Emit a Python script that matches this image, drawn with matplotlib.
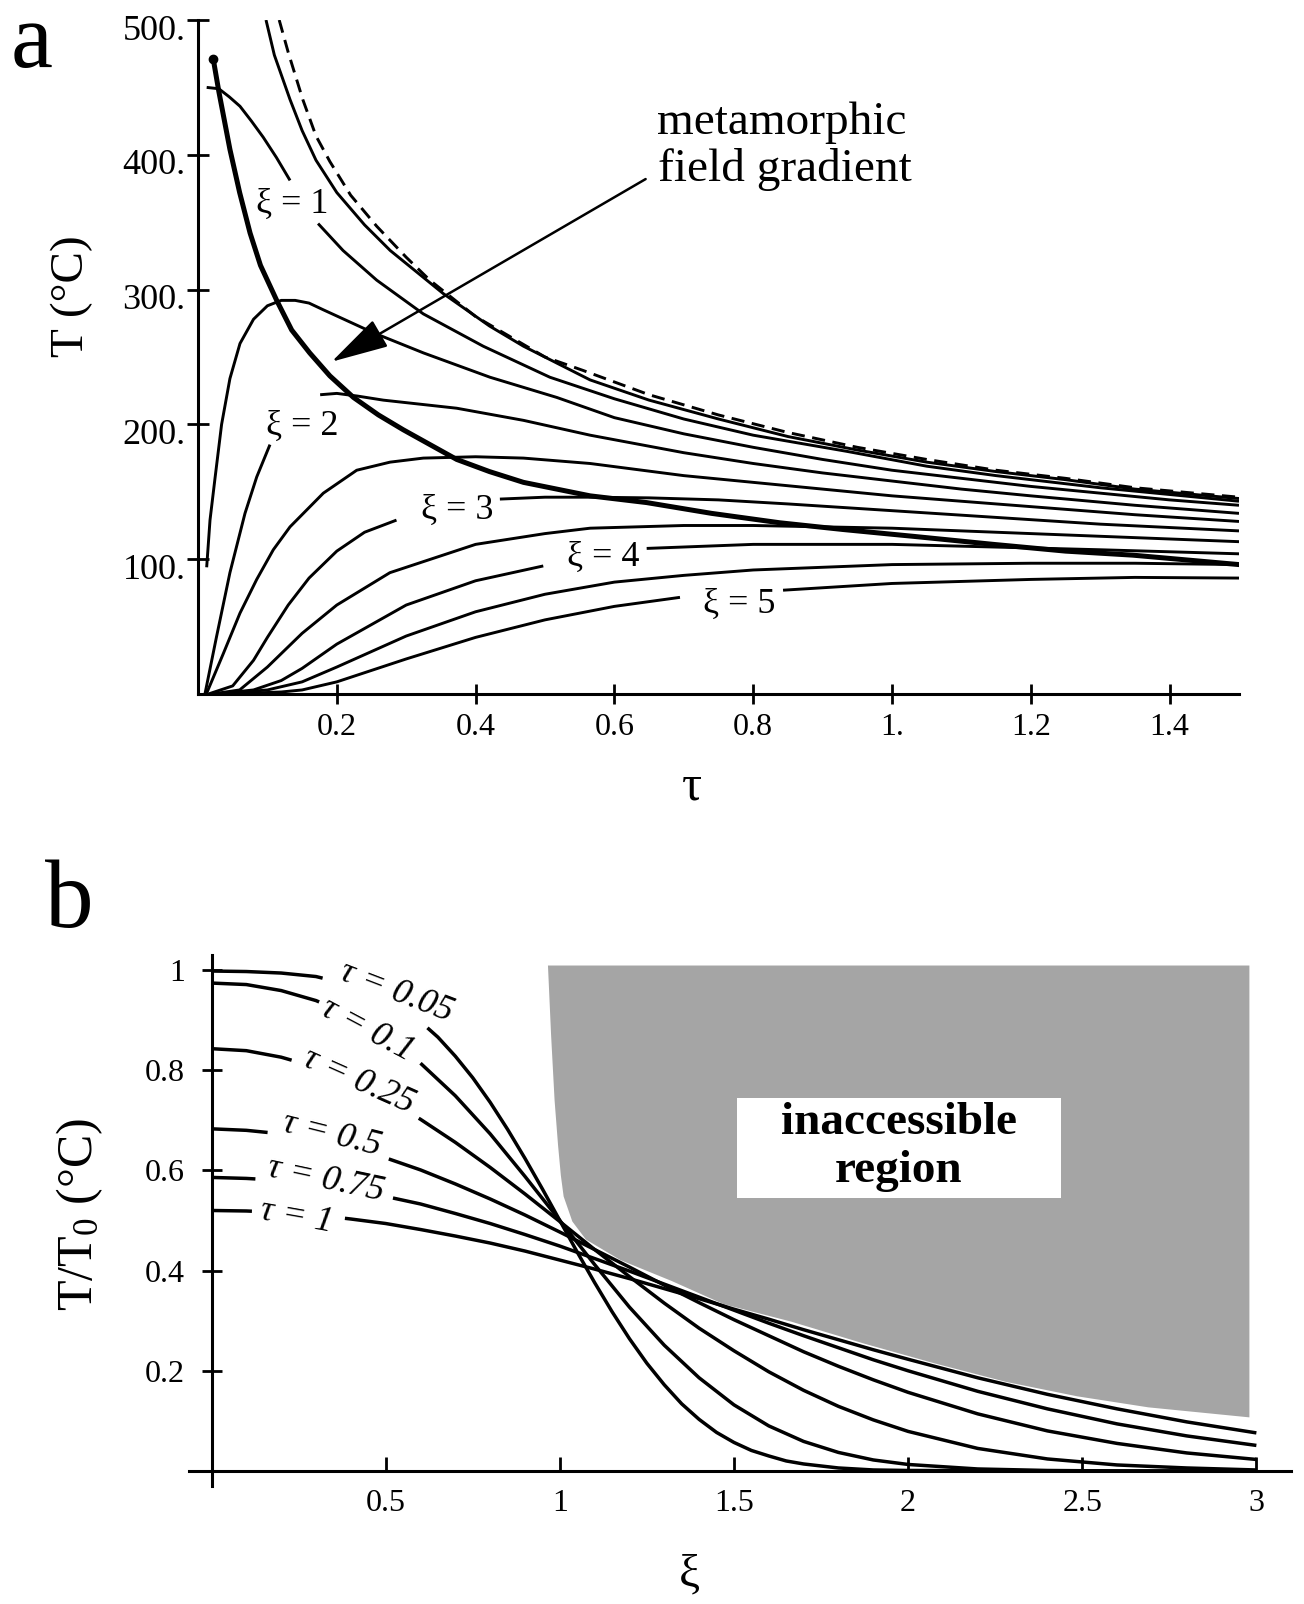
import numpy as np
import matplotlib
matplotlib.use("Agg")
import matplotlib.pyplot as plt
from matplotlib import transforms

plt.rcParams["font.family"] = ["Liberation Serif", "DejaVu Serif"]
plt.rcParams["mathtext.fontset"] = "custom"
plt.rcParams["mathtext.rm"] = "Liberation Serif"
plt.rcParams["mathtext.it"] = "Liberation Serif:italic"

W, H = 1304, 1604

# ---------------- panel a : temperature history at fixed depth ----------------
TAU_XI0 = [0.117, 0.13, 0.151, 0.17, 0.19, 0.22, 0.2575, 0.3, 0.334, 0.4, 0.5,
           0.555, 0.65, 0.75, 0.85, 0.95, 1.05, 1.15, 1.25, 1.35, 1.5]
T_XI0 = [500, 476, 441, 414, 395, 370, 347, 324, 307, 280, 250,
         240, 222, 207, 194, 183, 174, 166, 160, 153, 146]

TAU_XI05 = [0.098, 0.11, 0.1326, 0.15, 0.17, 0.2, 0.24, 0.277, 0.3535, 0.42,
            0.469, 0.565, 0.65, 0.75, 0.85, 0.95, 1.05, 1.15, 1.25, 1.35, 1.5]
T_XI05 = [500, 474, 441, 418, 396, 372, 348, 329, 297, 273,
          258, 233, 218, 204, 191, 181, 172, 165, 159, 152, 145]

TAU_XI1 = [0.0125, 0.03, 0.045, 0.0605, 0.077, 0.094, 0.113, 0.1326, 0.173,
           0.209, 0.2575, 0.3246, 0.411, 0.507, 0.6, 0.7, 0.8, 0.935, 1.05,
           1.15, 1.3, 1.5]
T_XI1 = [450, 449, 443, 436, 425, 413, 398, 381, 349,
         329, 307, 282, 258, 235, 219, 204, 192, 180, 169,
         162, 153, 143]

TAU_XI15 = [0.0125, 0.0173, 0.0245, 0.034, 0.046, 0.0605, 0.08, 0.1, 0.12,
            0.14, 0.16, 0.1806, 0.2526, 0.325, 0.4207, 0.517, 0.6, 0.7, 0.8,
            0.9, 1.0, 1.1, 1.2, 1.3, 1.4, 1.5]
T_XI15 = [94, 129, 160, 200, 234, 260, 278, 288, 292,
          292, 290, 285, 268, 253, 235, 220, 205, 193, 183,
          174, 166, 160, 154, 149, 144, 140]

TAU_XI2 = [0.01, 0.0265, 0.046, 0.0677, 0.0846, 0.1037, 0.176, 0.2, 0.23,
           0.267, 0.3728, 0.469, 0.565, 0.7, 0.8, 0.9, 1.0, 1.1, 1.2, 1.35, 1.5]
T_XI2 = [0, 42, 90, 134, 161, 185, 222, 223, 221,
         218, 212, 203, 192, 179, 171, 164, 158, 152, 147, 140, 134]

TAU_XI25 = [0.012, 0.0365, 0.0605, 0.0846, 0.1085, 0.1326, 0.1806, 0.2287,
            0.2767, 0.3246, 0.4, 0.469, 0.565, 0.7, 0.8, 0.9, 1.0, 1.1, 1.2,
            1.35, 1.5]
T_XI25 = [0, 30, 60, 85, 107, 124, 149, 166,
          172, 175, 176, 175, 171, 162, 157, 152, 147, 143, 139,
          133, 128]

TAU_XI3 = [0.015, 0.05, 0.08, 0.1, 0.13, 0.16, 0.2, 0.24, 0.286, 0.435, 0.5,
           0.565, 0.65, 0.75, 0.85, 1.0, 1.15, 1.3, 1.5]
T_XI3 = [0, 6, 25, 42, 66, 86, 106, 120, 129, 144.6, 146,
         146, 145.5, 144, 141, 136, 131, 126, 121]

TAU_XI35 = [0.02, 0.06, 0.1, 0.15, 0.2, 0.2765, 0.4, 0.5, 0.565, 0.7, 0.8,
            0.9, 1.0, 1.15, 1.3, 1.5]
T_XI35 = [0, 3, 20, 45, 66, 90, 111, 119, 123, 125, 125,
          124, 123, 120, 117, 113]

TAU_XI4 = [0.025, 0.08, 0.12, 0.15, 0.2, 0.3, 0.4, 0.4975, 0.6465, 0.8, 1.0,
           1.15, 1.3, 1.5]
T_XI4 = [0, 3, 10, 19, 37, 66, 84, 95, 108, 111, 111,
         109, 107, 104]

TAU_XI45 = [0.03, 0.1, 0.15, 0.2, 0.3, 0.4, 0.5, 0.6, 0.7, 0.8, 1.0, 1.2,
            1.35, 1.5]
T_XI45 = [0, 3, 9, 20, 43, 61, 74, 83, 88, 92, 96, 97,
          97, 96]

TAU_XI5 = [0.04, 0.12, 0.15, 0.2, 0.3, 0.4, 0.5, 0.6, 0.6945, 0.843, 1.0,
           1.2, 1.35, 1.5]
T_XI5 = [0, 1.5, 3, 9, 26, 42, 55, 65, 71.7, 77, 82,
         85, 86.5, 86]

# locus of peak temperatures (metamorphic field gradient)
TAU_PEAK = [0.022, 0.03, 0.046, 0.06, 0.075, 0.09, 0.1134, 0.135, 0.161, 0.19,
            0.224, 0.26, 0.2958, 0.3728, 0.42, 0.469, 0.565, 0.6465, 0.74,
            0.8386, 0.93, 1.03, 1.146, 1.25, 1.347, 1.5]
T_PEAK = [471, 447, 404, 372, 342, 318, 292, 270, 253, 236,
          220, 207, 196, 174, 165, 157, 147, 142, 134,
          127, 122, 117, 111, 106, 103, 96]

A_XTICKS = [0.2, 0.4, 0.6, 0.8, 1.0, 1.2, 1.4]
A_XTICKLABELS = ["0.2", "0.4", "0.6", "0.8", "1.", "1.2", "1.4"]
A_YTICKS = [100, 200, 300, 400, 500]
A_YTICKLABELS = ["100.", "200.", "300.", "400.", "500."]

# ---------------- panel b : normalised profiles at fixed time ----------------
XI_B005 = [0, 0.1, 0.2, 0.3, 0.4, 0.5, 0.6, 0.65, 0.7, 0.75, 0.8, 0.85, 0.9,
           0.95, 1.0, 1.05, 1.1, 1.15, 1.2, 1.25, 1.3, 1.35, 1.4, 1.45, 1.5,
           1.55, 1.6, 1.65, 1.7, 1.8, 1.9, 2.0, 2.5, 3.0]
V_B005 = [0.998, 0.997, 0.994, 0.987, 0.970, 0.943, 0.897, 0.866, 0.828,
          0.785, 0.736, 0.682, 0.624, 0.563, 0.500, 0.437, 0.376, 0.318,
          0.264, 0.215, 0.172, 0.134, 0.103, 0.077, 0.057, 0.041, 0.030,
          0.020, 0.014, 0.006, 0.002, 0.001, 0.0, 0.0]

XI_B = [0, 0.1, 0.2, 0.3, 0.4, 0.5, 0.6, 0.7, 0.8, 0.9, 1.0, 1.1, 1.2, 1.3,
        1.4, 1.5, 1.6, 1.7, 1.8, 1.9, 2.0, 2.2, 2.4, 2.6, 2.8, 3.0]
V_B01 = [0.974, 0.971, 0.959, 0.939, 0.909, 0.868, 0.814, 0.749, 0.673,
         0.588, 0.500, 0.412, 0.327, 0.251, 0.186, 0.132, 0.090, 0.059,
         0.037, 0.022, 0.013, 0.004, 0.001, 0.0, 0.0, 0.0]
V_B025 = [0.843, 0.839, 0.826, 0.806, 0.778, 0.743, 0.702, 0.656, 0.606,
          0.553, 0.498, 0.442, 0.388, 0.335, 0.285, 0.240, 0.198, 0.161,
          0.129, 0.102, 0.079, 0.045, 0.024, 0.012, 0.006, 0.002]
V_B05 = [0.683, 0.680, 0.673, 0.661, 0.645, 0.625, 0.601, 0.573, 0.543,
         0.511, 0.477, 0.442, 0.407, 0.371, 0.336, 0.302, 0.270, 0.238,
         0.209, 0.182, 0.157, 0.114, 0.080, 0.055, 0.036, 0.023]
V_B075 = [0.586, 0.584, 0.580, 0.572, 0.561, 0.548, 0.533, 0.514, 0.494,
          0.472, 0.449, 0.424, 0.399, 0.373, 0.347, 0.321, 0.295, 0.270,
          0.246, 0.222, 0.200, 0.159, 0.124, 0.094, 0.070, 0.051]
V_B1 = [0.520, 0.519, 0.516, 0.511, 0.503, 0.494, 0.482, 0.469, 0.455,
        0.439, 0.421, 0.403, 0.384, 0.364, 0.344, 0.323, 0.303, 0.282,
        0.262, 0.242, 0.223, 0.186, 0.153, 0.124, 0.098, 0.076]

XI_SHADE = [0.966, 0.975, 0.985, 0.995, 1.003, 1.011, 1.036, 1.075, 1.174,
            1.322, 1.47, 1.665, 1.87, 2.075, 2.28, 2.486, 2.69, 2.98, 2.98]
V_SHADE = [1.009, 0.87, 0.74, 0.65, 0.59, 0.548, 0.498, 0.462, 0.421,
           0.379, 0.333, 0.298, 0.255, 0.215, 0.178, 0.149, 0.127, 0.107,
           1.009]

B_XTICKS = [0.5, 1, 1.5, 2, 2.5, 3]
B_XTICKLABELS = ["0.5", "1", "1.5", "2", "2.5", "3"]
B_YTICKS = [0.2, 0.4, 0.6, 0.8, 1.0]
B_YTICKLABELS = ["0.2", "0.4", "0.6", "0.8", "1"]


def px(x, y):
    """Pixel position (from top-left) to figure fraction."""
    return x / W, 1 - y / H


def split_gap(x, y, gap):
    """Cut a curve where its label sits."""
    x = np.asarray(x, float)
    y = np.asarray(y, float)
    if gap is None:
        return [(x, y)]
    g0, g1 = gap
    xl = np.append(x[x < g0], g0)
    yl = np.append(y[x < g0], np.interp(g0, x, y))
    xr = np.insert(x[x > g1], 0, g1)
    yr = np.insert(y[x > g1], 0, np.interp(g1, x, y))
    return [(xl, yl), (xr, yr)]


def plot_panel_a(ax):
    curves = [
        (TAU_XI05, T_XI05, None),
        (TAU_XI1, T_XI1, (0.1326, 0.173)),
        (TAU_XI15, T_XI15, None),
        (TAU_XI2, T_XI2, (0.1037, 0.176)),
        (TAU_XI25, T_XI25, None),
        (TAU_XI3, T_XI3, (0.286, 0.435)),
        (TAU_XI35, T_XI35, None),
        (TAU_XI4, T_XI4, (0.4975, 0.6465)),
        (TAU_XI45, T_XI45, None),
        (TAU_XI5, T_XI5, (0.6945, 0.843)),
    ]
    for tau, temp, gap in curves:
        for xs, ys in split_gap(tau, temp, gap):
            ax.plot(xs, ys, color="black", lw=2.1, solid_capstyle="butt")

    ax.plot(TAU_XI0, T_XI0, color="black", lw=2.1, linestyle=(0, (4.5, 2.6)))
    ax.plot(TAU_PEAK, T_PEAK, color="black", lw=3.6, solid_capstyle="round")
    ax.plot(TAU_PEAK[0], T_PEAK[0], "o", color="black", ms=6)

    # curve labels, baseline placed on the gap
    labels = [("ξ = 1", 0.136, 357), ("ξ = 2", 0.150, 192), ("ξ = 3", 0.373, 130),
              ("ξ = 4", 0.584, 95), ("ξ = 5", 0.780, 60)]
    for text, x, y in labels:
        ax.text(x, y, text, ha="center", va="baseline", fontsize=26)

    ax.annotate("", xy=(0.1926, 246.5), xytext=(0.645, 382),
                arrowprops=dict(arrowstyle="-|>,head_length=1.2,head_width=0.32",
                                color="black", lw=1.8, mutation_scale=30,
                                shrinkA=0, shrinkB=0))

    ax.set_xlim(0, 1.5)
    ax.set_ylim(0, 500)
    for side in ("top", "right"):
        ax.spines[side].set_visible(False)
    for side in ("left", "bottom"):
        ax.spines[side].set_linewidth(2.2)
    ax.set_xticks(A_XTICKS)
    ax.set_xticklabels(A_XTICKLABELS)
    ax.set_yticks(A_YTICKS)
    ax.set_yticklabels(A_YTICKLABELS)
    ax.tick_params(axis="x", direction="inout", length=15, width=2,
                   labelsize=23, pad=6)
    ax.tick_params(axis="y", direction="inout", length=16, width=2,
                   labelsize=26, pad=1)
    shift = transforms.ScaledTranslation(0, -7 / 100, ax.figure.dpi_scale_trans)
    for lab in ax.get_yticklabels():
        lab.set_transform(lab.get_transform() + shift)


def plot_panel_b(ax):
    ax.fill(XI_SHADE, V_SHADE, facecolor="#a5a5a5", edgecolor="none", zorder=1)
    ax.add_patch(plt.Rectangle((1.509, 0.545), 0.93, 0.20, facecolor="white",
                               edgecolor="none", zorder=3))

    curves = [
        (XI_B005, V_B005, (0.319, 0.620)),
        (XI_B, V_B01, (0.309, 0.600)),
        (XI_B, V_B025, (0.230, 0.595)),
        (XI_B, V_B05, (0.161, 0.509)),
        (XI_B, V_B075, (0.126, 0.521)),
        (XI_B, V_B1, (0.116, 0.383)),
    ]
    for xi, v, gap in curves:
        for xs, ys in split_gap(xi, v, gap):
            ax.plot(xs, ys, color="black", lw=2.5, zorder=2,
                    solid_capstyle="butt")

    labels = [("τ = 0.05", 0.531, 0.956, -21), ("τ = 0.1", 0.447, 0.880, -28),
              ("τ = 0.25", 0.423, 0.777, -24), ("τ = 0.5", 0.344, 0.671, -14),
              ("τ = 0.75", 0.329, 0.581, -12), ("τ = 1", 0.245, 0.506, -10)]
    for text, x, y, rot in labels:
        ax.text(x, y, text, ha="center", va="center", rotation=rot,
                rotation_mode="anchor", fontsize=26, style="italic", zorder=4)

    ax.set_xlim(-0.0635, 3.10)
    ax.set_ylim(-0.029, 1.030)
    for side in ("top", "right"):
        ax.spines[side].set_visible(False)
    ax.spines["left"].set_position(("data", 0))
    ax.spines["bottom"].set_position(("data", 0))
    for side in ("left", "bottom"):
        ax.spines[side].set_linewidth(2.2)
    ax.set_xticks(B_XTICKS)
    ax.set_xticklabels(B_XTICKLABELS)
    ax.set_yticks(B_YTICKS)
    ax.set_yticklabels(B_YTICKLABELS)
    ax.tick_params(axis="x", direction="in", length=10, width=2,
                   labelsize=23, pad=13)
    ax.tick_params(axis="y", direction="inout", length=14, width=2,
                   labelsize=23, pad=12)


fig = plt.figure(figsize=(W / 100, H / 100), dpi=100)
ax_a = fig.add_axes([198 / W, 1 - 694 / H, (1239 - 198) / W, (694 - 20) / H])
ax_b = fig.add_axes([189.4 / W, 1 - 1485.5 / H, (1291.2 - 189.4) / W,
                     (1485.5 - 955) / H])

plot_panel_a(ax_a)
plot_panel_b(ax_b)

# panel letters and axis titles
fig.text(*px(11, 67), "a", fontsize=68, ha="left", va="baseline")
fig.text(*px(45, 927), "b", fontsize=70, ha="left", va="baseline")
fig.text(*px(71.5, 296), "T (°C)", fontsize=34, rotation=90,
         ha="center", va="center")
fig.text(*px(692, 787), "τ", fontsize=36, ha="center", va="center")
fig.text(*px(80, 1214), r"T/T$_0$ (°C)", fontsize=36, rotation=90,
         ha="center", va="center")
fig.text(*px(689, 1575), "ξ", fontsize=34, ha="center", va="center")

fig.text(*px(782, 134), "metamorphic", fontsize=34, ha="center", va="baseline")
fig.text(*px(785, 181.4), "field gradient", fontsize=34, ha="center",
         va="baseline")
fig.text(*px(898.6, 1133.6), "inaccessible", fontsize=34, fontweight="bold",
         ha="center", va="baseline", zorder=5)
fig.text(*px(898.6, 1181.8), "region", fontsize=34, fontweight="bold",
         ha="center", va="baseline", zorder=5)

fig.savefig("out.png", dpi=100, facecolor="white")
